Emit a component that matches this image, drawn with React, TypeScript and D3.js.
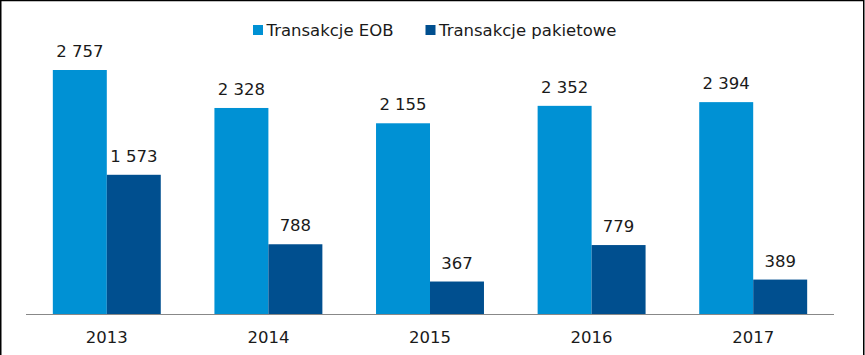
import React from "react";
import * as d3 from "d3";

const categories = ["2013", "2014", "2015", "2016", "2017"];
const seriesNames = ["Transakcje EOB", "Transakcje pakietowe"];
const eob = [2757, 2328, 2155, 2352, 2394];
const pakietowe = [1573, 788, 367, 779, 389];
const colors = ["#0091D4", "#004F8F"];

const fmt = (v: number) => d3.format(",")(v).replace(/,/g, " ");

export default function App() {
  const W = 865, H = 355;
  const x0 = d3.scaleBand().domain(categories).range([26, 834]).paddingInner(0.332).paddingOuter(0.166);
  const x1 = d3.scaleBand().domain(seriesNames).range([0, x0.bandwidth()]);
  const y = d3.scaleLinear().domain([0, 3000]).range([314, 48.5]);
  const series = [eob, pakietowe];
  const font = "'DejaVu Sans', Verdana, sans-serif";
  const fs = 16.5;
  return (
    <svg width={W} height={H} style={{ position: "absolute", left: 0, top: 0, background: "#fff" }} fontFamily={font}>
      <rect x={0} y={0} width={W} height={H} fill="#fff" />
      <rect x={0.75} y={0.5} width={863} height={420} fill="none" stroke="#000" strokeWidth={1.5} />
      {/* legend */}
      <g>
        <rect x={253} y={25} width={10} height={10} fill={colors[0]} />
        <text x={266.5} y={36} fontSize={fs} fill="#1a1a1a">{seriesNames[0]}</text>
        <rect x={425.5} y={25} width={10} height={10} fill={colors[1]} />
        <text x={439} y={36} fontSize={fs} fill="#1a1a1a">{seriesNames[1]}</text>
      </g>
      {categories.map((c, i) => (
        <g key={c}>
          {series.map((s, j) => {
            const bx = (x0(c) as number) + (x1(seriesNames[j]) as number);
            const by = y(s[i]);
            return (
              <g key={j}>
                <rect x={bx} y={by} width={x1.bandwidth()} height={y(0) - by} fill={colors[j]} />
                <text x={bx + x1.bandwidth() / 2} y={by - 13} fontSize={fs} textAnchor="middle" fill="#1a1a1a">{fmt(s[i])}</text>
              </g>
            );
          })}
          <text x={(x0(c) as number) + x0.bandwidth() / 2} y={343} fontSize={fs} textAnchor="middle" fill="#1a1a1a">{c}</text>
        </g>
      ))}
      <line x1={26} x2={834} y1={314.5} y2={314.5} stroke="#888" strokeWidth={1} />
    </svg>
  );
}
